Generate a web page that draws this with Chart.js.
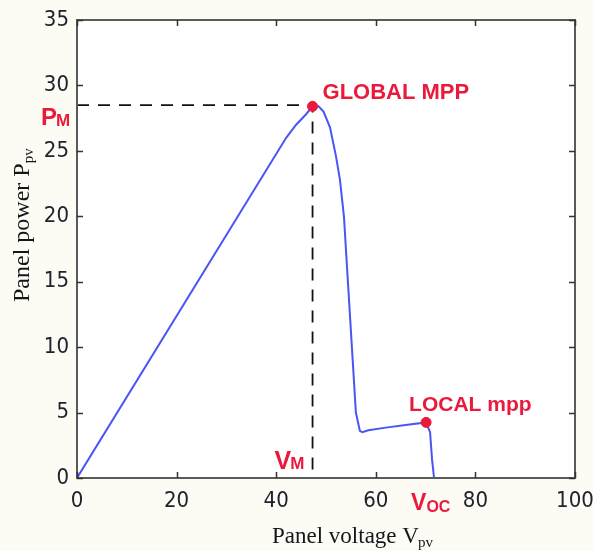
<!DOCTYPE html>
<html>
<head>
<meta charset="utf-8">
<script src="https://cdn.jsdelivr.net/npm/chart.js@4.4.0/dist/chart.umd.min.js"></script>
<style>
  html, body { margin: 0; padding: 0; background: #fcfcf5; }
  #wrap { width: 593px; height: 551px; position: relative; }
</style>
</head>
<body>
<div id="wrap"><canvas id="c" width="593" height="551"></canvas></div>
<script>
// ---- data ----
const voltage = [0, 42, 44, 46, 47.3, 48.5, 49.5, 50.8, 52.0, 52.8, 53.6, 54.4, 55.2, 56.0, 56.8, 57.3, 58.5, 62, 66, 70.1, 70.9, 71.3, 71.7];
const power   = [0, 26.0, 27.0, 27.8, 28.4, 28.4, 28.0, 26.8, 24.6, 22.8, 20, 15, 10, 5, 3.6, 3.5, 3.65, 3.85, 4.05, 4.25, 3.5, 1.4, 0];
const globalMpp = { v: 47.3, p: 28.4 };
const localMpp  = { v: 70.1, p: 4.25 };
const pmLevel = 28.5;
const vocValue = 71.7;
const xTicks = [0, 20, 40, 60, 80, 100];
const yTicks = [0, 5, 10, 15, 20, 25, 30, 35];

const RED = '#ea1a3c';
const TICKFONT = "'Liberation Sans Narrow', 'DejaVu Sans Condensed', 'Liberation Sans', Arial, sans-serif";

const curve = voltage.map((v, i) => ({ x: v, y: power[i] }));
const dashed = [{ x: 0, y: pmLevel }, { x: globalMpp.v, y: pmLevel }, { x: globalMpp.v, y: 0 }];

const decor = {
  id: 'decor',
  beforeDraw(chart) {
    const { ctx, chartArea: a } = chart;
    ctx.save();
    ctx.fillStyle = '#fcfcf5';
    ctx.fillRect(0, 0, chart.width, chart.height);
    ctx.fillStyle = '#ffffff';
    ctx.fillRect(a.left, a.top, a.right - a.left, a.bottom - a.top);
    ctx.restore();
  },
  afterDatasetsDraw(chart) {
    const { ctx, chartArea: a, scales: { x, y } } = chart;
    ctx.save();
    // frame
    ctx.strokeStyle = '#5a5a5a';
    ctx.lineWidth = 2;
    ctx.strokeRect(a.left, a.top, a.right - a.left, a.bottom - a.top);
    // inward ticks on all four sides
    ctx.lineWidth = 1.5;
    ctx.strokeStyle = '#333';
    ctx.beginPath();
    xTicks.forEach(t => {
      const px = Math.round(x.getPixelForValue(t)) + 0.5;
      ctx.moveTo(px, a.bottom); ctx.lineTo(px, a.bottom - 6);
      ctx.moveTo(px, a.top); ctx.lineTo(px, a.top + 6);
    });
    yTicks.forEach(t => {
      const py = Math.round(y.getPixelForValue(t)) + 0.5;
      ctx.moveTo(a.left, py); ctx.lineTo(a.left + 6, py);
      ctx.moveTo(a.right, py); ctx.lineTo(a.right - 6, py);
    });
    ctx.stroke();

    // red annotations
    ctx.fillStyle = RED;
    ctx.textBaseline = 'alphabetic';
    ctx.textAlign = 'left';
    const gx = x.getPixelForValue(globalMpp.v), gy = y.getPixelForValue(globalMpp.p);
    ctx.font = "bold 22px 'Liberation Sans', Arial, sans-serif";
    ctx.fillText('GLOBAL MPP', gx + 10, gy - 7);
    const lx = x.getPixelForValue(localMpp.v), ly = y.getPixelForValue(localMpp.p);
    ctx.font = "bold 21px 'Liberation Sans', Arial, sans-serif";
    ctx.fillText('LOCAL mpp', lx - 17, ly - 11);

    // P_M on left of y-axis
    const pmY = y.getPixelForValue(pmLevel);
    ctx.font = "bold 24px 'Liberation Sans', Arial, sans-serif";
    ctx.fillText('P', 41, pmY + 20);
    let w = ctx.measureText('P').width;
    ctx.font = "bold 17px 'Liberation Sans', Arial, sans-serif";
    ctx.fillText('M', 41 + w - 1, pmY + 21);

    // V_M
    const vmX = x.getPixelForValue(globalMpp.v);
    ctx.font = "bold 25px 'Liberation Sans', Arial, sans-serif";
    ctx.fillText('V', vmX - 38, a.bottom - 9);
    w = ctx.measureText('V').width;
    ctx.font = "bold 17px 'Liberation Sans', Arial, sans-serif";
    ctx.fillText('M', vmX - 38 + w - 1, a.bottom - 9);

    // V_OC below axis
    const vocX = x.getPixelForValue(vocValue);
    ctx.font = "bold 23px 'Liberation Sans', Arial, sans-serif";
    ctx.fillText('V', vocX - 23, a.bottom + 32);
    w = ctx.measureText('V').width;
    ctx.font = "bold 16px 'Liberation Sans', Arial, sans-serif";
    ctx.fillText('OC', vocX - 23 + w, a.bottom + 34);

    // axis titles (serif with subscript)
    ctx.fillStyle = '#15151c';
    ctx.font = "23px 'Liberation Serif', 'Times New Roman', serif";
    const xt = 'Panel voltage V';
    ctx.fillText(xt, 272, 543);
    w = ctx.measureText(xt).width;
    ctx.font = "15px 'Liberation Serif', 'Times New Roman', serif";
    ctx.fillText('pv', 272 + w - 1, 547);

    ctx.save();
    ctx.translate(29, 302);
    ctx.rotate(-Math.PI / 2);
    ctx.font = "24px 'Liberation Serif', 'Times New Roman', serif";
    const yt = 'Panel power P';
    ctx.fillText(yt, 0, 0);
    w = ctx.measureText(yt).width;
    ctx.font = "15px 'Liberation Serif', 'Times New Roman', serif";
    ctx.fillText('pv', w, 4);
    ctx.restore();

    ctx.restore();
  }
};

new Chart(document.getElementById('c'), {
  type: 'scatter',
  data: {
    datasets: [
      {
        label: 'P-V curve',
        data: curve,
        showLine: true,
        borderColor: '#4a55f5',
        borderWidth: 2,
        pointRadius: 0,
        tension: 0,
        order: 2
      },
      {
        label: 'dashed',
        data: dashed,
        showLine: true,
        borderColor: '#111111',
        borderWidth: 1.8,
        borderDash: [12, 9],
        pointRadius: 0,
        order: 3
      },
      {
        label: 'MPP',
        data: [{ x: globalMpp.v, y: globalMpp.p }, { x: localMpp.v, y: localMpp.p }],
        showLine: false,
        pointRadius: 5,
        pointBackgroundColor: RED,
        pointBorderColor: RED,
        order: 1
      }
    ]
  },
  options: {
    responsive: false,
    animation: false,
    layout: { padding: { left: 0, top: 20, right: 18, bottom: 0 } },
    plugins: { legend: { display: false }, tooltip: { enabled: false } },
    scales: {
      x: {
        type: 'linear', min: 0, max: 100,
        afterFit(s) { s.height = 73; s.paddingLeft = 0; s.paddingRight = 0; },
        afterBuildTicks(s) { s.ticks = xTicks.map(v => ({ value: v })); },
        grid: { display: false, drawTicks: false },
        border: { display: false },
        ticks: { padding: 10, color: '#22222e', font: { family: TICKFONT, size: 22 }, maxRotation: 0 }
      },
      y: {
        type: 'linear', min: 0, max: 35,
        afterFit(s) { s.width = 77; s.paddingTop = 0; s.paddingBottom = 0; },
        afterBuildTicks(s) { s.ticks = yTicks.map(v => ({ value: v })); },
        grid: { display: false, drawTicks: false },
        border: { display: false },
        ticks: { padding: 8, color: '#22222e', font: { family: TICKFONT, size: 22 } }
      }
    }
  },
  plugins: [decor]
});
</script>
</body>
</html>
